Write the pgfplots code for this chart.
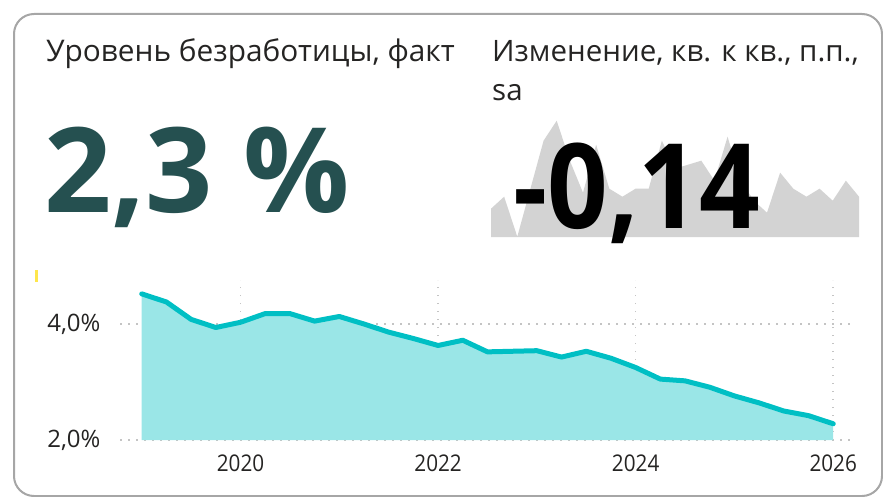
\documentclass[border=0pt]{standalone}
\usepackage{pgfplots}
\pgfplotsset{compat=1.18}
\usepackage{fontspec}
\setmainfont{Open Sans}
\newfontfamily\condfont{Open Sans}[FakeStretch=0.9]

\definecolor{ctext}{HTML}{252423}
\definecolor{cbig}{HTML}{255050}
\definecolor{cline}{HTML}{00BFC4}
\definecolor{cfill}{HTML}{9AE6E7}
\definecolor{cspark}{HTML}{D3D3D3}
\definecolor{cgrid}{HTML}{C4C4C4}
\definecolor{cborder}{HTML}{A6A6A6}

% unemployment level, %, quarterly
\pgfplotstableread{
x y
2019.00 4.52
2019.25 4.38
2019.50 4.08
2019.75 3.94
2020.00 4.03
2020.25 4.18
2020.50 4.18
2020.75 4.05
2021.00 4.13
2021.25 4.00
2021.50 3.86
2021.75 3.75
2022.00 3.63
2022.25 3.72
2022.50 3.52
2022.75 3.53
2023.00 3.54
2023.25 3.43
2023.50 3.53
2023.75 3.41
2024.00 3.25
2024.25 3.05
2024.50 3.02
2024.75 2.91
2025.00 2.76
2025.25 2.64
2025.50 2.50
2025.75 2.42
2026.00 2.28
}\level

% change q/q, p.p., sa (sparkline)
\pgfplotstableread{
x y
0 -0.17
1 -0.14
2 -0.24
3 -0.12
4 0.00
5 0.05
6 -0.05
7 -0.13
8 -0.01
9 -0.12
10 -0.14
11 -0.12
12 -0.12
13 0.00
14 -0.07
15 -0.06
16 -0.05
17 -0.10
18 0.01
19 -0.10
20 -0.15
21 -0.18
22 -0.08
23 -0.12
24 -0.14
25 -0.12
26 -0.15
27 -0.10
28 -0.14
}\change

\begin{document}
\begin{tikzpicture}
\path[use as bounding box] (0,0) rectangle (883pt,-497pt);
\clip (0,0) rectangle (883pt,-497pt);

% card frame
\draw[cborder, line width=2pt, rounded corners=20pt] (14pt,-14pt) rectangle (882pt,-496pt);

% titles
\node[anchor=base west, inner sep=0pt, text=ctext, font=\fontsize{29.8}{34}\selectfont]
  at (46pt,-62pt) {Уровень безработицы, факт};
\node[anchor=base west, inner sep=0pt, text=ctext, font=\fontsize{29.5}{34}\selectfont]
  at (492pt,-62pt) {Изменение, кв. к кв., п.п.,};
\node[anchor=base west, inner sep=0pt, text=ctext, font=\fontsize{29.5}{34}\selectfont]
  at (492pt,-101pt) {sa};

% big value
\node[anchor=base west, inner sep=0pt, text=cbig, font=\fontsize{118}{120}\selectfont\bfseries]
  at (44pt,-212pt) {2,3 \%};

% sparkline
\begin{axis}[
  at={(491pt,-237pt)}, anchor=south west,
  width=368pt, height=120pt, scale only axis,
  xmin=0, xmax=28, ymin=-0.2408, ymax=0.0592,
  axis lines=none, ticks=none, clip=false]
  \addplot[fill=cspark, draw=none] table {\change}
    -- (axis cs:28,-0.2408) -- (axis cs:0,-0.2408) -- cycle;
\end{axis}

\node[anchor=base west, inner sep=0pt, text=black, font=\condfont\fontsize{118}{122}\selectfont\bfseries]
  at (513pt,-229pt) {-0,14};

% yellow marker
\fill[yellow!80!orange!70!white] (35pt,-270pt) rectangle (38pt,-282pt);

% main area chart
\begin{axis}[
  at={(120pt,-440pt)}, anchor=south west,
  width=732pt, height=160pt, scale only axis,
  xmin=2018.78, xmax=2026.19, ymin=2, ymax=4.759,
  axis line style={draw=none}, tick style={draw=none},
  xtick={2020,2022,2024,2026},
  xticklabels={2020,2022,2024,2026},
  ytick={2,4},
  yticklabels={{2,0\%},{4,0\%}},
  ticklabel style={text=ctext},
  xticklabel style={font=\condfont\fontsize{23}{26}\selectfont, yshift=-11pt},
  yticklabel style={font=\fontsize{24}{26}\selectfont, xshift=-16pt},
  grid=major,
  major grid style={cgrid, line width=1.5pt, dash pattern=on 1.5pt off 6.5pt},
  clip=false]
  \addplot[fill=cfill, draw=none] table {\level}
    -- (axis cs:2026,2) -- (axis cs:2019,2) -- cycle;
  \addplot[cline, line width=5pt, line join=round, line cap=round] table {\level};
\end{axis}
\end{tikzpicture}
\end{document}
